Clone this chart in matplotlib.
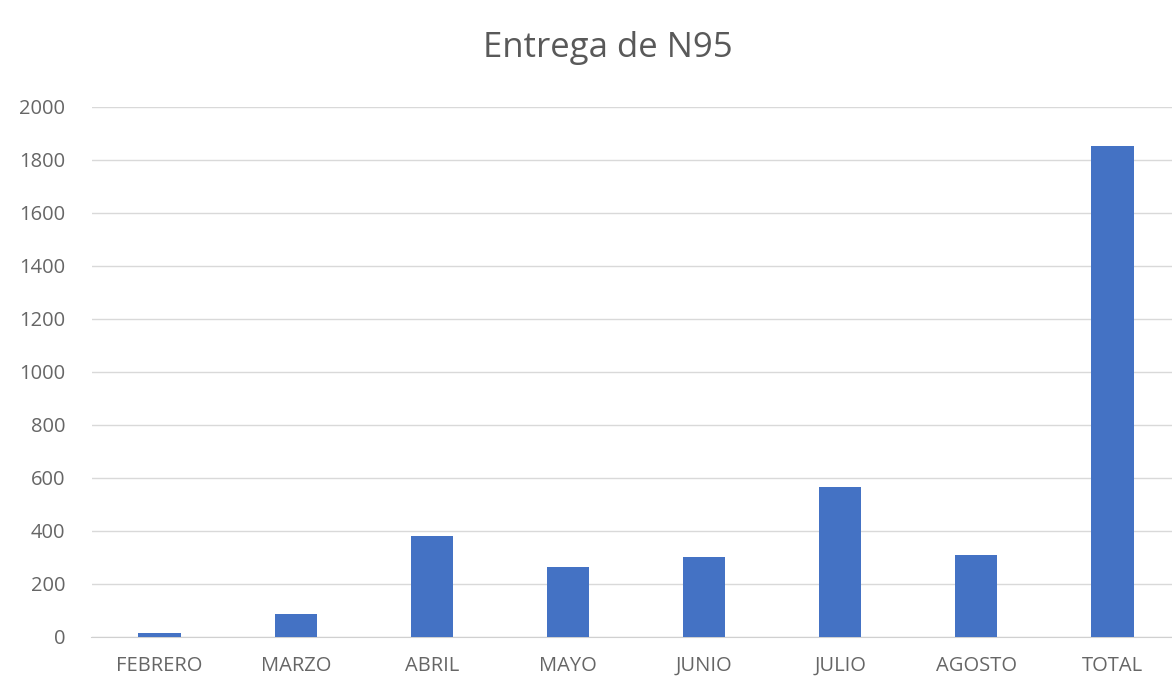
import matplotlib.pyplot as plt
import numpy as np

plt.rcParams["font.family"] = ["Open Sans", "DejaVu Sans"]

meses = ["FEBRERO", "MARZO", "ABRIL", "MAYO", "JUNIO", "JULIO", "AGOSTO", "TOTAL"]
entregas = [15, 85, 380, 262, 300, 564, 307, 1850]
y_ticks = [0, 200, 400, 600, 800, 1000, 1200, 1400, 1600, 1800, 2000]

W, H = 1172, 677
fig = plt.figure(figsize=(W / 100, H / 100), dpi=100)
left, bottom, top = 91.5, 677 - 636.7, 677 - 106.7
ax = fig.add_axes([left / W, bottom / H, (W - left) / W, (top - bottom) / H])

x = np.arange(len(meses))
ax.bar(x, entregas, width=0.31, color="#4472C4", zorder=3)

ax.set_xlim(-0.5, 7.4375)
ax.set_ylim(0, 2000)
ax.set_yticks(y_ticks)
ax.set_xticks(x)
ax.set_xticklabels(meses)

ax.grid(axis="y", color="#d9d9d9", linewidth=1, zorder=0)
for s in ["left", "right", "top"]:
    ax.spines[s].set_visible(False)
ax.spines["bottom"].set_color("#d0d0d0")
ax.tick_params(length=0, colors="#666666", labelsize=14.5)
ax.tick_params(axis="y", pad=19)
ax.tick_params(axis="x", pad=14)

fig.text(0.519, 0.929, "Entrega de N95", ha="center", va="center",
         fontsize=25, color="#595959")

fig.savefig("out.png", dpi=100)
